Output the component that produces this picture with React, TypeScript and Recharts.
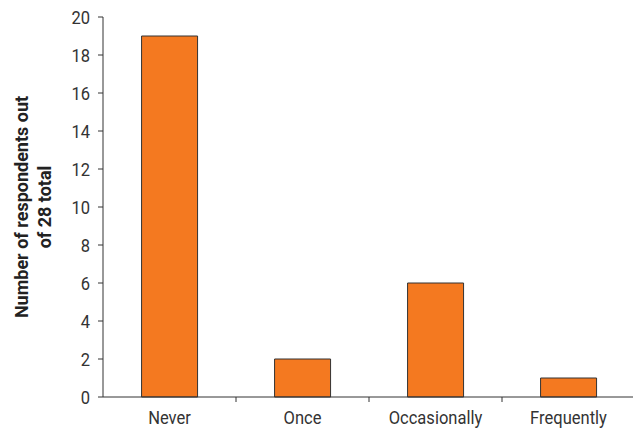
import { BarChart, Bar, XAxis, YAxis } from 'recharts';

const categories = ['Never', 'Once', 'Occasionally', 'Frequently'];
const respondents = [19, 2, 6, 1];
const yTicks = [0, 2, 4, 6, 8, 10, 12, 14, 16, 18, 20];
const yTitle = ['Number of respondents out', 'of 28 total'];

const data = categories.map((name, i) => ({ name, value: respondents[i] }));

const FONT = "'Liberation Sans Narrow', 'Roboto', sans-serif";
const INK = '#333333';
const SQUEEZE = 0.87; // fake a condensed face, none is installed

// category labels with the tick marks placed on the band boundaries
// eslint-disable-next-line @typescript-eslint/no-explicit-any
const CategoryTick = ({ x, y, payload }: any) => {
  const half = payload?.offset ?? 0;
  return (
    <g>
      <line x1={x + half} x2={x + half} y1={y} y2={y + 5} stroke={INK} strokeWidth={1} />
      <text
        transform={`translate(${x}, ${y + 27}) scale(${SQUEEZE}, 1)`}
        textAnchor="middle"
        fill={INK}
        fontSize={19}
        fontFamily={FONT}
      >
        {payload.value}
      </text>
    </g>
  );
};

// eslint-disable-next-line @typescript-eslint/no-explicit-any
const ValueTick = ({ x, y, payload }: any) => (
  <text
    transform={`translate(${x}, ${y}) scale(${SQUEEZE}, 1)`}
    dy="0.36em"
    textAnchor="end"
    fill={INK}
    fontSize={19}
    fontFamily={FONT}
  >
    {payload.value}
  </text>
);

// eslint-disable-next-line @typescript-eslint/no-explicit-any
const YTitle = ({ viewBox }: any) => {
  const cy = viewBox.y + viewBox.height / 2;
  return (
    <g>
      {yTitle.map((line, i) => (
        <text
          key={line}
          x={28 + i * 23}
          y={cy}
          transform={`rotate(-90, ${28 + i * 23}, ${cy})`}
          textAnchor="middle"
          fill="#222"
          fontSize={18}
          fontWeight="bold"
          fontFamily={FONT}
        >
          {line}
        </text>
      ))}
    </g>
  );
};

export default function App() {
  return (
    <div style={{ width: 633, height: 432, background: '#fff' }}>
      <style>{`body{margin:0}`}</style>
      <BarChart
        width={633}
        height={432}
        data={data}
        margin={{ top: 17, right: -2, left: 0, bottom: 0 }}
        barCategoryGap="29%"
      >
        <XAxis
          dataKey="name"
          height={35}
          tickLine={false}
          tickSize={0}
          tickMargin={0}
          axisLine={{ stroke: INK }}
          tick={<CategoryTick />}
          interval={0}
        />
        <YAxis
          width={103}
          domain={[0, 20]}
          ticks={yTicks}
          interval={0}
          tickSize={5}
          tickMargin={8}
          axisLine={{ stroke: INK }}
          tickLine={{ stroke: INK }}
          tick={<ValueTick />}
          label={<YTitle />}
        />
        <Bar
          dataKey="value"
          fill="#F47920"
          stroke={INK}
          strokeWidth={1}
          isAnimationActive={false}
        />
      </BarChart>
    </div>
  );
}
